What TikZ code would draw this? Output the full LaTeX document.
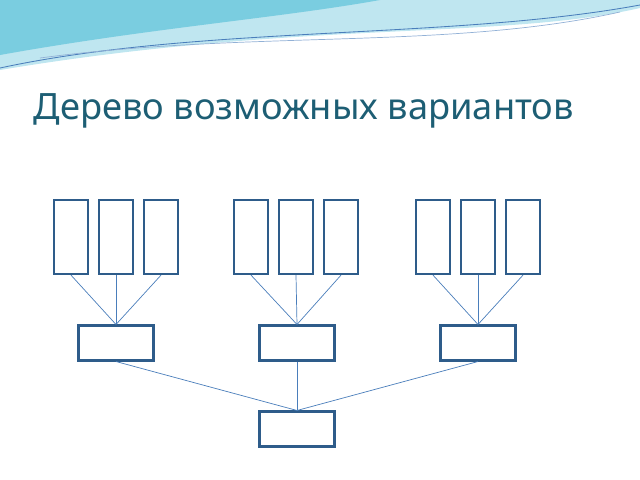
\documentclass[tikz,border=0pt]{standalone}
\usepackage{fontspec}
\setmainfont{Noto Sans}
\usetikzlibrary{positioning}
\definecolor{boxblue}{HTML}{2E5C8A}
\definecolor{linkblue}{HTML}{4A7EBB}
\definecolor{titleteal}{HTML}{1D5E74}
\definecolor{waveA}{HTML}{7ACDE0}
\definecolor{waveB}{HTML}{BFE6F0}

\begin{document}
\begin{tikzpicture}[
    x=0.025cm, y=-0.025cm,
    leaf/.style={rectangle, draw=boxblue, line width=1.6pt, fill=white, minimum width=0.85cm, minimum height=1.85cm, inner sep=0pt},
    mid/.style={rectangle, draw=boxblue, line width=1.6pt, fill=white, minimum width=1.87cm, minimum height=0.87cm, inner sep=0pt},
    link/.style={draw=linkblue, line width=0.5pt}
]
\useasboundingbox (0,0) rectangle (640,480);

% header wave
\fill[waveB] (0,0) -- (640,0) -- (640,8) .. controls (500,40) and (300,20) .. (0,70) -- cycle;
\fill[waveA] (0,0) -- (380,0) .. controls (280,18) and (150,28) .. (0,55) -- cycle;
\draw[linkblue, line width=0.6pt] (0,68) .. controls (200,25) and (450,40) .. (640,5);
\draw[linkblue!60, line width=0.5pt] (40,58) .. controls (250,30) and (450,50) .. (620,12);

% title
\node[anchor=west, text=titleteal, font=\fontsize{25.8}{30}\selectfont] (title) at (29,111) {Дерево возможных вариантов};

% leaves
\foreach \g/\gx in {a/71, b/251, c/433} {
  \foreach \i/\dx in {1/0, 2/45, 3/90} {
    \node[leaf] (\g\i) at (\gx+\dx,237) {};
  }
}

% middle level
\node[mid] (ma) at (116,343) {};
\node[mid] (mb) at (297,343) {};
\node[mid] (mc) at (478,343) {};

% root
\node[mid] (root) at (297,429) {};

% connectors
\foreach \g in {a,b,c} {
  \foreach \i in {1,2,3} {
    \draw[link] (\g\i.south) -- (m\g.north);
  }
}
\foreach \g in {a,b,c} {
  \draw[link] (m\g.south) -- (root.north);
}

\end{tikzpicture}
\end{document}
